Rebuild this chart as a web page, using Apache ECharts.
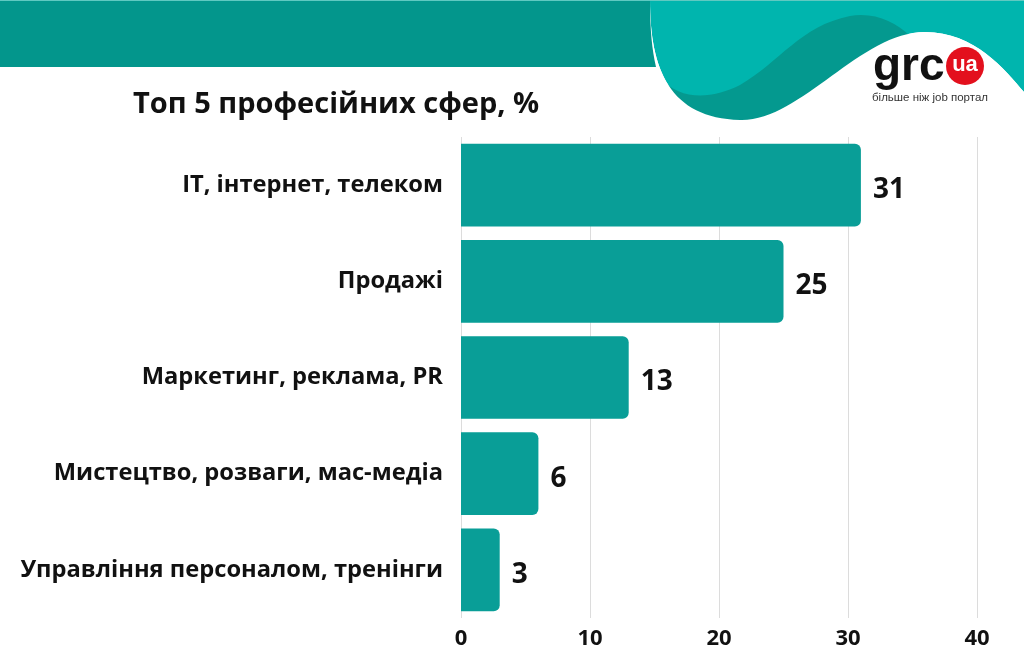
<!DOCTYPE html>
<html><head><meta charset="utf-8">
<script src="https://cdn.jsdelivr.net/npm/echarts@6/dist/echarts.min.js"></script>
<style>html,body{margin:0;padding:0;background:#fff}#c{width:1024px;height:659px}</style>
</head><body><div id="c"></div>
<script>
const categories = ['IT, інтернет, телеком', 'Продажі', 'Маркетинг, реклама, PR', 'Мистецтво, розваги, мас-медіа', 'Управління персоналом, тренінги'];
const values = [31, 25, 13, 6, 3];
const axisTicks = [0, 10, 20, 30, 40];
const titleText = 'Топ 5 професійних сфер, %';

const Deco = echarts.graphic.extendShape({
  shape: {cmds: []},
  buildPath(ctx, shape) {
    shape.cmds.forEach(c => {
      if (c[0] === 'M') ctx.moveTo(c[1], c[2]);
      else if (c[0] === 'L') ctx.lineTo(c[1], c[2]);
      else if (c[0] === 'C') ctx.bezierCurveTo(c[1], c[2], c[3], c[4], c[5], c[6]);
      else if (c[0] === 'Z') ctx.closePath();
    });
  }
});
echarts.graphic.registerShape('deco', Deco);

const chart = echarts.init(document.getElementById('c'), null, {renderer: 'canvas'});
const F = '"Open Sans", sans-serif';
chart.setOption({
  backgroundColor: '#fff',
  animation: false,
  title: {
    text: titleText, left: 133, top: 90, padding: 0,
    textStyle: {fontFamily: F, fontWeight: 'bold', fontSize: 29, color: '#111'}
  },
  grid: {left: 461, right: 47, top: 137, bottom: 41},
  xAxis: {
    type: 'value', min: axisTicks[0], max: axisTicks[axisTicks.length - 1], interval: 10,
    axisLine: {show: false}, axisTick: {show: false},
    splitLine: {lineStyle: {color: '#dcdcdc', width: 1}},
    axisLabel: {fontFamily: F, fontWeight: 'bold', fontSize: 22, color: '#111', margin: 10}
  },
  yAxis: {
    type: 'category', data: categories, inverse: true,
    axisLine: {show: false}, axisTick: {show: false},
    axisLabel: {fontFamily: F, fontWeight: 'bold', fontSize: 23.7, color: '#111', margin: 18, padding: [6, 0, 0, 0]}
  },
  series: [{
    type: 'bar', data: values, barCategoryGap: '14%',
    itemStyle: {color: '#099e97', borderRadius: [0, 6, 6, 0]},
    label: {show: true, position: 'right', distance: 12, offset: [0, 5], fontFamily: F, fontWeight: 'bold', fontSize: 28, color: '#111'}
  }],
  graphic: [
    {type: 'deco', z: 100, shape: {cmds: [['M',650,0],['L',1024,0],['L',1024,92],['C',1005,70,975,32,925,32],['C',860,32,800,122,740,120],['C',670,118,650,70,650,0],['Z']]}, style: {fill: '#00b5ae'}},
    {type: 'deco', z: 101, shape: {cmds: [['M',660,78],['C',680,100,710,100,740,85],['C',780,62,800,26,850,16],['C',875,12,895,22,910,36],['L',910,125],['L',660,125],['Z']]}, style: {fill: '#04998f'}},
    {type: 'deco', z: 102, shape: {cmds: [['M',650,0],['C',650,70,670,118,740,120],['C',800,122,860,32,925,32],['C',975,32,1005,70,1024,92],['L',1024,131],['L',650,131],['Z']]}, style: {fill: '#fff'}},
    {type: 'deco', z: 103, shape: {cmds: [['M',0,0],['L',650,0],['C',650,30,652,50,656,67],['L',0,67],['Z']]}, style: {fill: '#03968c'}},
    {type: 'rect', z: 104, shape: {x: 0, y: 0, width: 1024, height: 1}, style: {fill: '#5fc9c1'}},
    {type: 'text', z: 110, x: 873, y: 44, style: {text: 'grc', fontFamily: 'Liberation Sans, Arial, sans-serif', fontWeight: 'bold', fontSize: 46, fill: '#111'}},
    {type: 'circle', z: 110, shape: {cx: 965, cy: 66, r: 19}, style: {fill: '#e3101d'}},
    {type: 'text', z: 111, x: 965, y: 65, style: {text: 'ua', align: 'center', verticalAlign: 'middle', fontFamily: 'Liberation Sans, Arial, sans-serif', fontWeight: 'bold', fontSize: 22, fill: '#fff'}},
    {type: 'text', z: 110, x: 872, y: 92, style: {text: 'більше ніж job портал', fontFamily: 'Liberation Sans, Arial, sans-serif', fontSize: 11.5, fill: '#333'}}
  ]
});
</script></body></html>
